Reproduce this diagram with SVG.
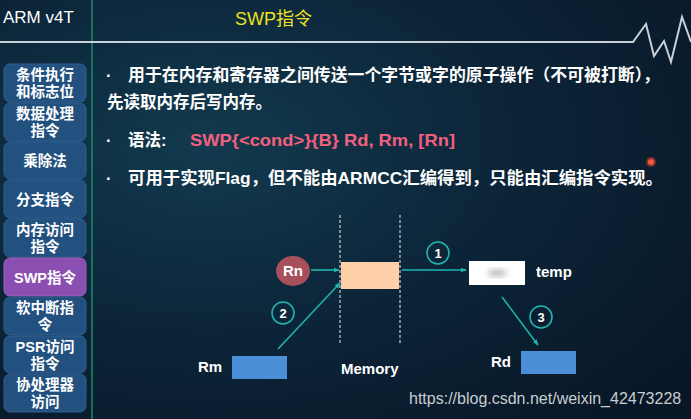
<svg xmlns="http://www.w3.org/2000/svg" width="691" height="419" viewBox="0 0 691 419">
<defs>
<radialGradient id="bg" cx="0.3" cy="0.35" r="0.9">
<stop offset="0" stop-color="#123a4e"/>
<stop offset="0.5" stop-color="#0c2438"/>
<stop offset="1" stop-color="#081626"/>
</radialGradient>
<filter id="blur" x="-50%" y="-50%" width="200%" height="200%"><feGaussianBlur stdDeviation="3"/></filter>
<marker id="ah" viewBox="0 0 10 10" refX="9" refY="5" markerWidth="6" markerHeight="6" orient="auto" markerUnits="userSpaceOnUse">
<path d="M0,1 L10,5 L0,9 z" fill="#1fb5b0"/>
</marker>
<style>
.btn{fill:#22507f;stroke:#2f5f92;stroke-width:1}
.btnsel{fill:#8a4fb0;stroke:#9b62c0;stroke-width:1}
.bt{font-family:"Liberation Sans","Noto Sans CJK SC",sans-serif;font-weight:bold;font-size:14.5px;fill:#ffffff;text-anchor:middle}
.body{font-family:"Liberation Sans","Noto Sans CJK SC",sans-serif;font-weight:bold;font-size:16.5px;fill:#ffffff}
.lbl{font-family:"Liberation Sans",sans-serif;font-weight:bold;font-size:15px;fill:#ffffff}
.conn{stroke:#1fb5b0;stroke-width:1.6;fill:none}
.num{fill:none;stroke:#1fb5b0;stroke-width:1.6}
.numt{font-family:"Liberation Sans",sans-serif;font-weight:bold;font-size:13px;fill:#ffffff;text-anchor:middle}
.dash{stroke:#c8ccd0;stroke-width:1.2;stroke-dasharray:3,2}
</style>
</defs>
<rect width="691" height="419" fill="url(#bg)"/>
<g id="header">
<text x="3" y="23" font-family="Liberation Sans,sans-serif" font-size="17" fill="#ffffff">ARM v4T</text>
<text x="235" y="25" font-family="Liberation Sans,'Noto Sans CJK SC',sans-serif" font-size="18" fill="#f0e020">SWP指令</text>
<line x1="92" y1="0" x2="92" y2="419" stroke="#1e8a6a" stroke-width="1.5"/>
<polyline points="0,42 633,42 646,24 654,56 664,41 671,62 682,17 691,42" fill="none" stroke="#c8d0d8" stroke-width="2"/>
</g>
<g id="sidebar">
<g id="btn1"><rect class="btn" x="4" y="64" width="82" height="38" rx="6"/><text class="bt" x="45" y="80">条件执行</text><text class="bt" x="45" y="97">和标志位</text></g>
<g id="btn2"><rect class="btn" x="4" y="103" width="82" height="38" rx="6"/><text class="bt" x="45" y="119">数据处理</text><text class="bt" x="45" y="136">指令</text></g>
<g id="btn3"><rect class="btn" x="4" y="142" width="82" height="37" rx="6"/><text class="bt" x="45" y="166">乘除法</text></g>
<g id="btn4"><rect class="btn" x="4" y="180" width="82" height="38" rx="6"/><text class="bt" x="45" y="205">分支指令</text></g>
<g id="btn5"><rect class="btn" x="4" y="219" width="82" height="38" rx="6"/><text class="bt" x="45" y="235">内存访问</text><text class="bt" x="45" y="252">指令</text></g>
<g id="btn6"><rect class="btnsel" x="4" y="258" width="82" height="38" rx="6"/><text class="bt" x="45" y="283">SWP指令</text></g>
<g id="btn7"><rect class="btn" x="4" y="297" width="82" height="38" rx="6"/><text class="bt" x="45" y="313">软中断指</text><text class="bt" x="45" y="330">令</text></g>
<g id="btn8"><rect class="btn" x="4" y="336" width="82" height="37" rx="6"/><text class="bt" x="45" y="352">PSR访问</text><text class="bt" x="45" y="369">指令</text></g>
<g id="btn9"><rect class="btn" x="4" y="374" width="82" height="38" rx="6"/><text class="bt" x="45" y="390">协处理器</text><text class="bt" x="45" y="407">访问</text></g>
</g>
<g id="content">
<text class="body" x="106" y="81">·</text>
<text class="body" x="128" y="81" textLength="532" lengthAdjust="spacingAndGlyphs">用于在内存和寄存器之间传送一个字节或字的原子操作（不可被打断），</text>
<text class="body" x="107" y="108">先读取内存后写内存。</text>
<text class="body" x="106" y="146">·</text>
<text class="body" x="128" y="146">语法:</text>
<text class="body" x="190" y="146" style="fill:#f2607e" textLength="265" lengthAdjust="spacingAndGlyphs">SWP{&lt;cond&gt;}{B} Rd, Rm, [Rn]</text>
<text class="body" x="106" y="184">·</text>
<text class="body" x="128" y="184" textLength="535" lengthAdjust="spacingAndGlyphs">可用于实现Flag，但不能由ARMCC汇编得到，只能由汇编指令实现。</text>
<circle cx="651" cy="162" r="5" fill="#e0402a" opacity="0.5"/>
<circle cx="651" cy="162" r="3" fill="#f05a3a"/>
</g>
<g id="memory">
<line class="dash" x1="340" y1="215" x2="340" y2="344"/>
<line class="dash" x1="400" y1="215" x2="400" y2="344"/>
<rect x="341" y="262" width="58" height="27" fill="#fdd0a8"/>
<text class="lbl" x="341" y="374">Memory</text>
</g>
<g id="rn"><ellipse cx="293" cy="271" rx="17" ry="15" fill="#a84f5c"/><text class="lbl" x="293" y="276" text-anchor="middle">Rn</text></g>
<g id="rm"><text class="lbl" x="198" y="372">Rm</text><rect x="232" y="356" width="55" height="23" fill="#4a8fd8"/></g>
<g id="temp"><rect x="469" y="261" width="56" height="24" fill="#ffffff"/><ellipse cx="497" cy="273" rx="10" ry="3" fill="#aaaaaa" filter="url(#blur)"/><text class="lbl" x="536" y="277">temp</text></g>
<g id="rd"><text class="lbl" x="491" y="367">Rd</text><rect x="521" y="351" width="55" height="23" fill="#4a8fd8"/></g>
<g id="connectors">
<line class="conn" x1="311" y1="270" x2="339" y2="270" marker-end="url(#ah)"/>
<line class="conn" x1="402" y1="270" x2="466" y2="270" marker-end="url(#ah)"/>
<line class="conn" x1="278" y1="349" x2="340" y2="283" marker-end="url(#ah)"/>
<line class="conn" x1="502" y1="297" x2="538" y2="345" marker-end="url(#ah)"/>
<g id="n1"><circle class="num" cx="438" cy="253" r="11"/><text class="numt" x="438" y="258">1</text></g>
<g id="n2"><circle class="num" cx="283" cy="313" r="11"/><text class="numt" x="283" y="318">2</text></g>
<g id="n3"><circle class="num" cx="541" cy="317" r="11"/><text class="numt" x="541" y="322">3</text></g>
</g>
<text x="409" y="404" font-family="Liberation Sans,sans-serif" font-size="16" fill="#c8ccd0">https://blog.csdn.net/weixin_42473228</text>
</svg>
